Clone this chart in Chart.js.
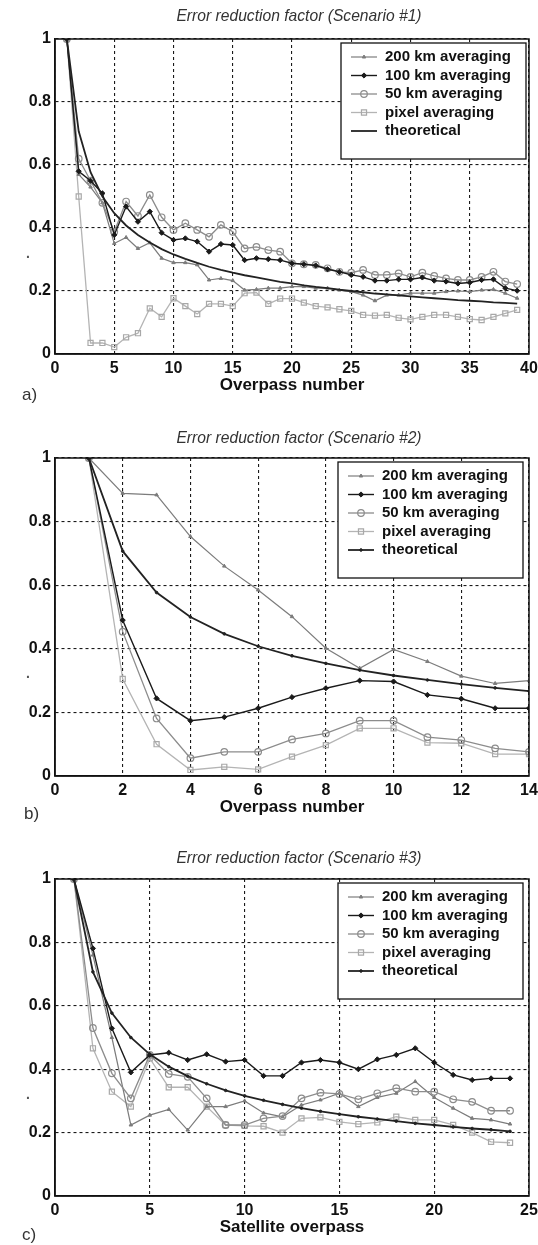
<!DOCTYPE html>
<html><head><meta charset="utf-8">
<script src="https://cdn.jsdelivr.net/npm/chart.js@4.4.0/dist/chart.umd.min.js"></script>
<style>
html,body{margin:0;padding:0;background:#fff;width:538px;height:1245px;overflow:hidden;position:relative;}
canvas{position:absolute;left:0;}
.lab{position:absolute;font:17px "Liberation Sans Narrow","Liberation Sans",Arial,sans-serif;color:#333;line-height:20px;}
.dot{position:absolute;font:bold 14px "Liberation Sans",Arial,sans-serif;color:#555;line-height:14px;}
</style></head><body>
<canvas id="ca" width="538" height="400" style="top:0px"></canvas>
<canvas id="cb" width="538" height="400" style="top:420px"></canvas>
<canvas id="cc" width="538" height="405" style="top:840px"></canvas>
<div class="lab" style="left:22px;top:385px">a)</div>
<div class="lab" style="left:24px;top:804px">b)</div>
<div class="lab" style="left:22px;top:1225px">c)</div>
<div class="dot" style="left:26px;top:246px">.</div>
<div class="dot" style="left:26px;top:666px">.</div>
<div class="dot" style="left:26px;top:1087px">.</div>
<script>
// ---------- data ----------
const seriesNames = ['200 km averaging','100 km averaging','50 km averaging','pixel averaging','theoretical'];

// Scenario #1
const overpassA = [1,2,3,4,5,6,7,8,9,10,11,12,13,14,15,16,17,18,19,20,21,22,23,24,25,26,27,28,29,30,31,32,33,34,35,36,37,38,39];
const a200 = [1,0.57,0.53,0.48,0.351,0.37,0.335,0.353,0.304,0.29,0.29,0.283,0.235,0.24,0.233,0.203,0.205,0.209,0.209,0.214,0.214,0.209,0.209,0.203,0.198,0.187,0.169,0.187,0.187,0.193,0.193,0.193,0.198,0.2,0.198,0.203,0.205,0.193,0.177];
const a100 = [1,0.58,0.55,0.51,0.378,0.468,0.42,0.452,0.385,0.362,0.367,0.357,0.325,0.349,0.346,0.298,0.304,0.301,0.298,0.288,0.285,0.281,0.269,0.261,0.251,0.245,0.233,0.233,0.237,0.237,0.243,0.233,0.23,0.224,0.227,0.235,0.237,0.209,0.201];
const a50  = [1,0.62,0.55,0.48,0.388,0.484,0.438,0.505,0.434,0.394,0.415,0.394,0.372,0.41,0.388,0.335,0.34,0.33,0.325,0.288,0.285,0.283,0.272,0.261,0.258,0.267,0.251,0.251,0.256,0.245,0.258,0.248,0.24,0.235,0.235,0.245,0.261,0.23,0.222];
const aPix = [1,0.5,0.035,0.035,0.022,0.053,0.066,0.145,0.118,0.177,0.152,0.127,0.159,0.159,0.152,0.193,0.195,0.159,0.176,0.176,0.163,0.152,0.148,0.142,0.137,0.124,0.122,0.124,0.115,0.11,0.118,0.124,0.124,0.118,0.111,0.108,0.118,0.129,0.14];
const aTheo = [1,0.707,0.577,0.5,0.447,0.408,0.378,0.354,0.333,0.316,0.302,0.289,0.277,0.267,0.258,0.25,0.243,0.236,0.229,0.224,0.218,0.213,0.209,0.204,0.2,0.196,0.192,0.189,0.186,0.183,0.18,0.177,0.174,0.171,0.169,0.167,0.164,0.162,0.16];

// Scenario #2
const overpassB = [1,2,3,4,5,6,7,8,9,10,11,12,13,14];
const b200 = [1,0.889,0.884,0.753,0.66,0.585,0.501,0.402,0.339,0.398,0.36,0.314,0.291,0.3];
const b100 = [1,0.49,0.244,0.174,0.185,0.213,0.248,0.276,0.3,0.297,0.255,0.243,0.213,0.213];
const b50  = [1,0.454,0.181,0.056,0.076,0.076,0.115,0.134,0.174,0.174,0.122,0.113,0.087,0.076];
const bPix = [1,0.305,0.1,0.019,0.029,0.021,0.061,0.097,0.15,0.15,0.105,0.103,0.069,0.069];
const bTheo = [1,0.707,0.577,0.5,0.447,0.408,0.378,0.354,0.333,0.316,0.302,0.289,0.277,0.267];

// Scenario #3
const overpassC = [1,2,3,4,5,6,7,8,9,10,11,12,13,14,15,16,17,18,19,20,21,22,23,24];
const c200 = [1,0.76,0.5,0.224,0.255,0.273,0.208,0.282,0.282,0.3,0.262,0.25,0.287,0.303,0.324,0.282,0.311,0.324,0.361,0.311,0.277,0.245,0.24,0.227];
const c100 = [1,0.781,0.529,0.39,0.445,0.452,0.429,0.447,0.424,0.429,0.379,0.379,0.421,0.429,0.421,0.4,0.431,0.445,0.466,0.421,0.382,0.366,0.371,0.371];
const c50  = [1,0.53,0.387,0.308,0.445,0.385,0.376,0.308,0.224,0.224,0.245,0.252,0.308,0.326,0.322,0.305,0.324,0.34,0.329,0.329,0.305,0.297,0.269,0.269];
const cPix = [1,0.466,0.329,0.282,0.434,0.343,0.343,0.282,0.224,0.221,0.22,0.2,0.245,0.248,0.234,0.227,0.232,0.25,0.24,0.24,0.224,0.2,0.171,0.168];
const cTheo = [1,0.707,0.577,0.5,0.447,0.408,0.378,0.354,0.333,0.316,0.302,0.289,0.277,0.267,0.258,0.25,0.243,0.236,0.229,0.224,0.218,0.213,0.209,0.204];

const yTicks = [0,0.2,0.4,0.6,0.8,1];

// ---------- styles ----------
const STYLES = [
  {borderColor:'#7c7c7c',borderWidth:1.2,pointStyle:'triangle',pointRadius:2,pointBackgroundColor:'#7c7c7c',pointBorderColor:'#7c7c7c',pointBorderWidth:1,order:4},
  {borderColor:'#1a1a1a',borderWidth:1.4,pointStyle:'rectRot',pointRadius:2.6,pointBackgroundColor:'#1a1a1a',pointBorderColor:'#1a1a1a',pointBorderWidth:1,order:2},
  {borderColor:'#8c8c8c',borderWidth:1.3,pointStyle:'circle',pointRadius:3.3,pointBackgroundColor:'rgba(255,255,255,0)',pointBorderColor:'#8c8c8c',pointBorderWidth:1.2,order:3},
  {borderColor:'#b4b4b4',borderWidth:1.3,pointStyle:'rect',pointRadius:3.6,pointBackgroundColor:'rgba(255,255,255,0)',pointBorderColor:'#a8a8a8',pointBorderWidth:1.2,order:5},
  {borderColor:'#222',borderWidth:1.8,pointStyle:'circle',pointRadius:0,pointBackgroundColor:'#222',pointBorderColor:'#222',pointBorderWidth:1,order:1}
];

const frame = {
  id:'frame',
  afterDatasetsDraw(chart){
    const {ctx, chartArea:ca} = chart;
    ctx.save();
    ctx.setLineDash([]);
    ctx.strokeStyle='#111'; ctx.lineWidth=1.5;
    ctx.strokeRect(ca.left, ca.top, ca.right-ca.left, ca.bottom-ca.top);
    ctx.restore();
  }
};

const titlePlug = {
  id:'titlePlug',
  afterDraw(chart, args, o){
    const {ctx, chartArea:ca} = chart;
    ctx.save();
    ctx.font = 'italic 17px "Liberation Sans", Arial, sans-serif';
    ctx.fillStyle = '#333'; ctx.textAlign = 'center'; ctx.textBaseline = 'middle';
    ctx.translate((ca.left + ca.right)/2 + 7, o.y);
    ctx.scale(0.92, 1);
    ctx.fillText(o.text, 0, 0);
    ctx.restore();
  }
};

const legendBox = {
  id:'legendBox',
  afterDatasetsDraw(chart, args, o){
    const {ctx, chartArea:ca} = chart;
    const right = ca.right - o.inset, left = right - 185;
    const top = ca.top + 4, h = 116;
    ctx.save();
    ctx.setLineDash([]);
    ctx.fillStyle='#fff'; ctx.fillRect(left, top, right-left, h);
    ctx.lineWidth=1.3; ctx.strokeStyle='#111'; ctx.strokeRect(left, top, right-left, h);
    ctx.font='bold 15px "Liberation Sans", Arial, sans-serif';
    ctx.textBaseline='middle'; ctx.textAlign='left';
    chart.data.datasets.forEach((ds,i)=>{
      const y = top + 14 + i*18.5;
      const x0 = left + 10, x1 = left + 36;
      ctx.strokeStyle = ds.borderColor; ctx.lineWidth = ds.borderWidth;
      ctx.beginPath(); ctx.moveTo(x0,y); ctx.lineTo(x1,y); ctx.stroke();
      if (ds.pointRadius > 0) {
        ctx.fillStyle = ds.pointBackgroundColor; ctx.strokeStyle = ds.pointBorderColor; ctx.lineWidth = ds.pointBorderWidth;
        Chart.helpers.drawPoint(ctx, {pointStyle:ds.pointStyle, radius:ds.pointRadius, rotation:0, borderWidth:ds.pointBorderWidth}, (x0+x1)/2, y);
      }
      ctx.fillStyle='#111'; ctx.fillText(ds.label, left+44, y);
    });
    ctx.restore();
  }
};

function makeChart(id, cfg){
  const datasets = cfg.series.map((ys,i)=>Object.assign({
    label: seriesNames[i],
    data: cfg.xs.map((x,j)=>({x:x, y:ys[j]})),
    tension:0, fill:false
  }, STYLES[i], (i===4 && cfg.theoPts) ? {pointRadius:1.3} : {}));
  const tickFont = {family:'"Liberation Sans", Arial, sans-serif', weight:'bold', size:16};
  const grid = {color:'#1a1a1a', lineWidth:1.1, drawTicks:false};
  const border = {display:true, color:'#111', width:1.5, dash:[3,3]};
  return new Chart(document.getElementById(id), {
    type:'line',
    data:{datasets},
    plugins:[frame, legendBox, titlePlug],
    options:{
      responsive:false, animation:false, devicePixelRatio:1,
      layout:{padding:{left:0,right:0,top:cfg.top,bottom:0}},
      plugins:{
        legend:{display:false}, tooltip:{enabled:false}, title:{display:false},
        legendBox:{inset:cfg.inset},
        titlePlug:{text:cfg.title, y:cfg.titleY}
      },
      scales:{
        x:{type:'linear', min:0, max:cfg.xmax,
          afterBuildTicks(s){ s.ticks = cfg.xTicks.map(v=>({value:v})); },
          ticks:{font:tickFont, color:'#111', padding:5, maxRotation:0, autoSkip:false},
          grid, border,
          title:{display:true, text:cfg.xTitle, color:'#111',
            font:{family:'"Liberation Sans", Arial, sans-serif', weight:'bold', size:17, lineHeight:1.2},
            padding:{top:0,bottom:cfg.xtPad}},
          afterFit(s){ s.height = cfg.xh; s.paddingRight = 9; s.paddingLeft = 0; }
        },
        y:{type:'linear', min:0, max:1,
          afterBuildTicks(s){ s.ticks = yTicks.map(v=>({value:v})); },
          ticks:{font:tickFont, color:'#111', padding:4, callback:v=>String(Math.round(v*10)/10)},
          grid, border,
          afterFit(s){ s.width = 55; }
        }
      }
    }
  });
}

makeChart('ca', {xs:overpassA, series:[a200,a100,a50,aPix,aTheo], xmax:40, xTicks:[0,5,10,15,20,25,30,35,40],
  title:'Error reduction factor (Scenario #1)', titleY:16.5, top:39, xTitle:'Overpass number', xh:46, xtPad:4.8, inset:3, theoPts:false});
makeChart('cb', {xs:overpassB, series:[b200,b100,b50,bPix,bTheo], xmax:14, xTicks:[0,2,4,6,8,10,12,14],
  title:'Error reduction factor (Scenario #2)', titleY:18, top:38, xTitle:'Overpass number', xh:44, xtPad:2.8, inset:6, theoPts:true});
makeChart('cc', {xs:overpassC, series:[c200,c100,c50,cPix,cTheo], xmax:25, xTicks:[0,5,10,15,20,25],
  title:'Error reduction factor (Scenario #3)', titleY:18, top:39, xTitle:'Satellite overpass', xh:49, xtPad:7.8, inset:6, theoPts:true});
</script>
</body></html>
